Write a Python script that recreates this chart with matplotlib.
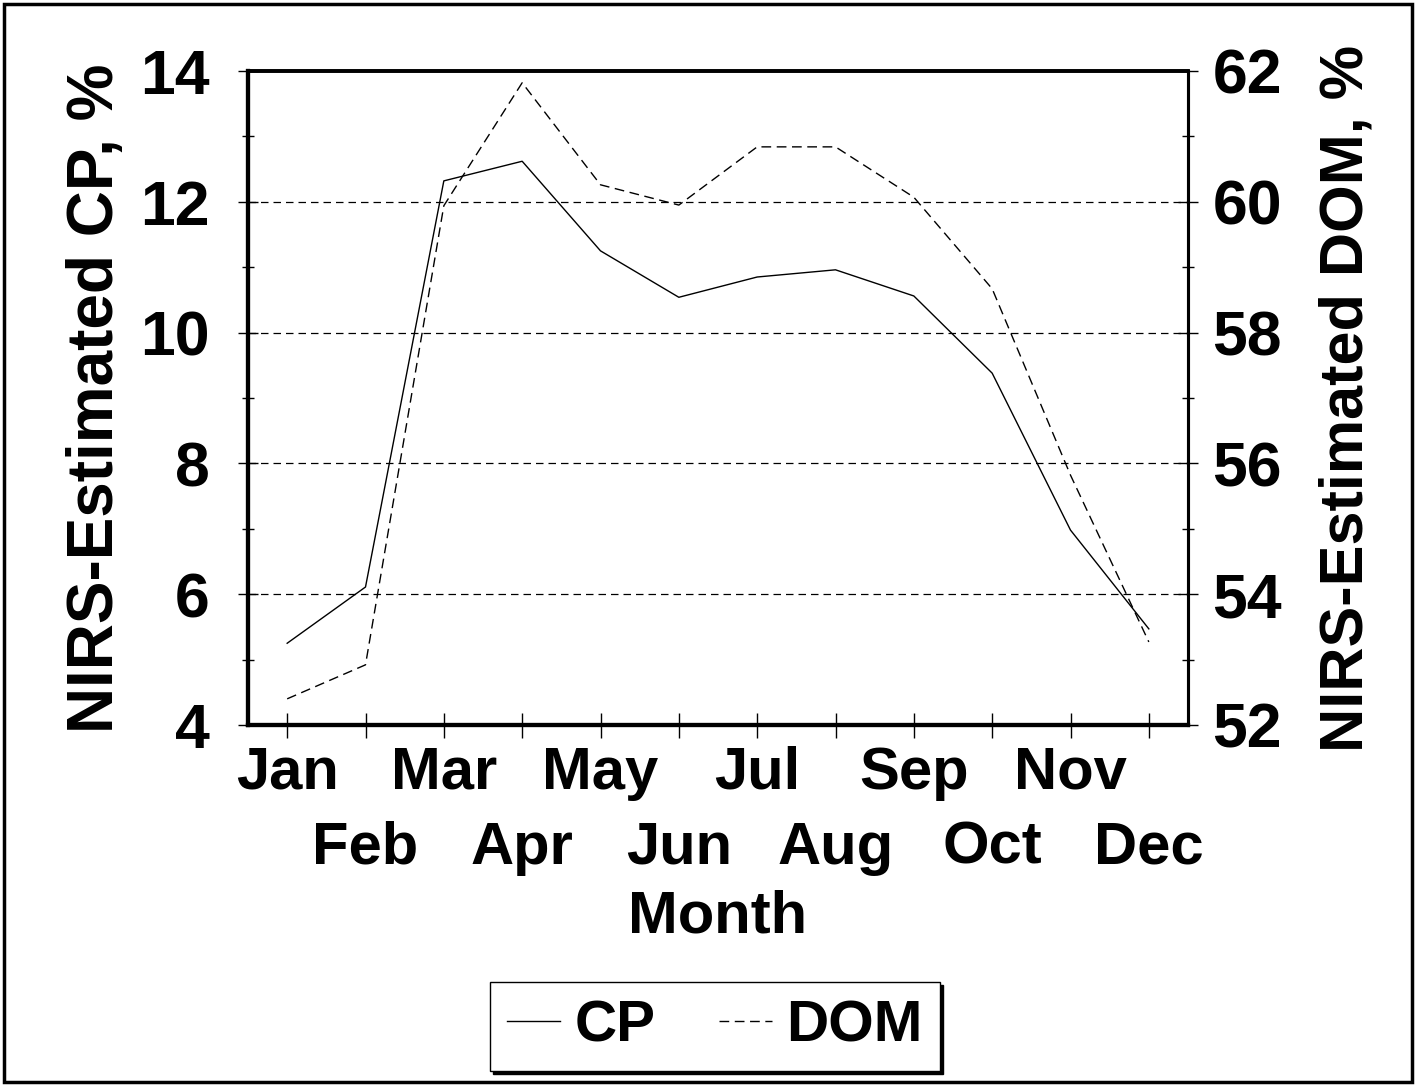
import matplotlib
matplotlib.use("Agg")
import matplotlib.pyplot as plt
from matplotlib.patches import Rectangle

months = ["Jan", "Feb", "Mar", "Apr", "May", "Jun", "Jul", "Aug", "Sep", "Oct", "Nov", "Dec"]
cp = [5.25, 6.11, 12.32, 12.62, 11.25, 10.54, 10.85, 10.96, 10.56, 9.38, 6.98, 5.47]
dom = [52.4, 52.92, 59.94, 61.82, 60.26, 59.95, 60.84, 60.84, 60.07, 58.67, 55.82, 53.27]
cp_ticks = [4, 6, 8, 10, 12, 14]
dom_ticks = [52, 54, 56, 58, 60, 62]

plt.rcParams['font.family'] = ['Liberation Sans', 'DejaVu Sans']
plt.rcParams['font.weight'] = 'bold'
FS_Y = 45
FS_X = 43
FS_LAB = 46
FS_LEG = 42

fig = plt.figure(figsize=(14.16, 10.85), dpi=100)
ax = fig.add_axes([248/1416, 1-725/1085, (1188-248)/1416, (725-71)/1085])
ax2 = ax.twinx()

x = list(range(1, 13))
l1, = ax.plot(x, cp, color='black', lw=1.0, label='CP')
l2, = ax2.plot(x, dom, color='black', lw=1.0, ls=(0, (7, 4)), label='DOM')

ax.set_xlim(0.5, 12.5)
ax.set_ylim(4, 14)
ax2.set_ylim(52, 62)
ax.set_yticks(cp_ticks)
ax.set_yticks([5, 7, 9, 11, 13], minor=True)
ax2.set_yticks(dom_ticks)
ax2.set_yticks([53, 55, 57, 59, 61], minor=True)
ax.set_yticklabels([str(v) for v in cp_ticks], fontsize=FS_Y, fontweight='bold')
ax2.set_yticklabels([str(v) for v in dom_ticks], fontsize=FS_Y, fontweight='bold')

odd_x = x[0::2]
even_x = x[1::2]
ax.set_xticks(odd_x)
ax.set_xticklabels(months[0::2], fontsize=FS_X, fontweight='bold')
ax.set_xticks(even_x, minor=True)
ax.set_xticklabels(months[1::2], minor=True, fontsize=FS_X, fontweight='bold')

for v in [6, 8, 10, 12]:
    ax.axhline(v, color='black', lw=0.9, ls=(0, (6, 4)), zorder=0)

ax.tick_params(axis='x', which='major', direction='inout', length=18, width=1.0, pad=6)
ax.tick_params(axis='x', which='minor', direction='inout', length=18, width=1.0, pad=60)
ax.tick_params(axis='y', which='major', direction='inout', length=15, width=1.0, pad=20)
ax.tick_params(axis='y', which='minor', direction='inout', length=9, width=1.0)
ax2.tick_params(axis='y', which='major', direction='inout', length=15, width=1.0, pad=10)
ax2.tick_params(axis='y', which='minor', direction='inout', length=9, width=1.0)

for a in (ax, ax2):
    a.spines['left'].set_linewidth(3.0)
    a.spines['bottom'].set_linewidth(3.0)
    a.spines['top'].set_linewidth(2.6)
    a.spines['right'].set_linewidth(2.2)

ax.set_xlabel("Month", fontsize=FS_X, fontweight='bold', labelpad=10)
ax.set_ylabel("NIRS-Estimated CP, %", fontsize=FS_LAB, fontweight='bold', labelpad=10)
ax2.set_ylabel("NIRS-Estimated DOM, %", fontsize=44, fontweight='bold', labelpad=26)

leg = fig.legend([l1, l2], ['CP', 'DOM'], loc='center', bbox_to_anchor=(0.505, 0.054),
                 ncol=2, frameon=True, fancybox=False, shadow={'color': 'black', 'alpha': 1.0},
                 edgecolor='black', fontsize=FS_LEG, handlelength=0.9, handletextpad=0.25,
                 columnspacing=1.1, borderpad=0.3)
for t in leg.get_texts():
    t.set_fontweight('bold')
leg.get_frame().set_linewidth(1.0)

fig.patches.append(Rectangle((4/1416, 3/1085), 1408/1416, 1078/1085, transform=fig.transFigure,
                             fill=False, edgecolor='black', lw=2.5))

fig.savefig("out.png", dpi=100)
